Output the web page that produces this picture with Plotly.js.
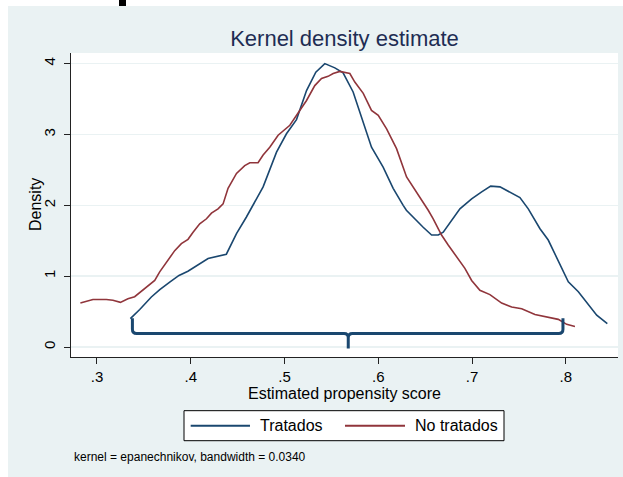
<!DOCTYPE html>
<html>
<head>
<meta charset="utf-8">
<script src="https://cdn.plot.ly/plotly-3.0.1.min.js"></script>
<style>
  html, body { margin: 0; padding: 0; background: #ffffff; width: 623px; height: 477px; overflow: hidden; }
  #chart { position: absolute; left: 8px; top: 6px; width: 615px; height: 471px; }
  #stub { position: absolute; left: 119px; top: 0px; width: 7px; height: 6px; background: #000; }
</style>
</head>
<body>
<div id="stub"></div>
<div id="chart"></div>
<script>
// ---- Data ----
const seriesNames = ["Tratados", "No tratados"];

const tratadosX = [0.3356, 0.3456, 0.358, 0.367, 0.3776, 0.3875, 0.397, 0.4078, 0.4185, 0.438, 0.4488, 0.4594, 0.4694, 0.4772, 0.4915, 0.5021, 0.5128, 0.5235, 0.5334, 0.543, 0.5537, 0.5625, 0.5732, 0.5804, 0.5928, 0.6052, 0.6159, 0.6266, 0.630, 0.6479, 0.6569, 0.664, 0.6693, 0.6871, 0.6996, 0.7103, 0.7199, 0.7298, 0.7405, 0.7511, 0.76, 0.7725, 0.7813, 0.792, 0.8027, 0.8134, 0.8223, 0.833, 0.8443];
const tratadosY = [0.40, 0.53, 0.706, 0.81, 0.917, 1.01, 1.07, 1.16, 1.25, 1.31, 1.60, 1.835, 2.07, 2.26, 2.75, 3.01, 3.21, 3.62, 3.88, 4.00, 3.94, 3.87, 3.60, 3.32, 2.82, 2.54, 2.24, 2.00, 1.93, 1.69, 1.58, 1.58, 1.62, 1.95, 2.09, 2.19, 2.27, 2.26, 2.19, 2.11, 1.95, 1.67, 1.51, 1.22, 0.92, 0.78, 0.635, 0.45, 0.33];

const noTratadosX = [0.2823, 0.2957, 0.31, 0.317, 0.325, 0.333, 0.3402, 0.3509, 0.3616, 0.3669, 0.374, 0.3829, 0.39, 0.3971, 0.4025, 0.4096, 0.4168, 0.4221, 0.4291, 0.4345, 0.4398, 0.4488, 0.4576, 0.463, 0.4718, 0.4772, 0.4843, 0.4932, 0.5057, 0.5128, 0.5235, 0.5323, 0.5395, 0.5465, 0.5519, 0.559, 0.5644, 0.5697, 0.575, 0.584, 0.5928, 0.600, 0.6089, 0.6195, 0.6302, 0.6409, 0.6533, 0.6586, 0.6675, 0.6746, 0.6836, 0.6924, 0.6996, 0.7084, 0.7191, 0.7316, 0.7423, 0.753, 0.7671, 0.7796, 0.792, 0.801, 0.8098];
const noTratadosY = [0.62, 0.67, 0.67, 0.66, 0.63, 0.68, 0.71, 0.82, 0.94, 1.06, 1.20, 1.36, 1.46, 1.52, 1.62, 1.74, 1.81, 1.89, 1.95, 2.02, 2.24, 2.45, 2.56, 2.60, 2.60, 2.71, 2.82, 2.99, 3.13, 3.27, 3.48, 3.69, 3.79, 3.82, 3.86, 3.89, 3.88, 3.86, 3.74, 3.58, 3.34, 3.27, 3.08, 2.80, 2.40, 2.19, 1.93, 1.81, 1.58, 1.44, 1.27, 1.11, 0.94, 0.80, 0.74, 0.62, 0.565, 0.54, 0.46, 0.43, 0.39, 0.32, 0.29];

const xTickVals = [0.3, 0.4, 0.5, 0.6, 0.7, 0.8];
const xTickText = [".3", ".4", ".5", ".6", ".7", ".8"];
const yTickVals = [0, 1, 2, 3, 4];
const yTickText = ["0", "1", "2", "3", "4"];

const titleText = "Kernel density estimate";
const xTitle = "Estimated propensity score";
const yTitle = "Density";
const noteText = "kernel = epanechnikov, bandwidth = 0.0340";

// brace annotation (data units): left end, cusp, right end; top of ends, bar level, cusp tip
const braceX = [0.3378, 0.568, 0.797];
const braceY = [0.405, 0.19, -0.02];

// ---- Styling ----
const BLUE = "#1A476F";
const RED = "#90353B";
const BG = "#EAF2F3";
const FONT = "Liberation Sans, Arial, sans-serif";
const seriesColors = [BLUE, RED];

const traces = [
  { x: tratadosX, y: tratadosY, name: seriesNames[0], type: "scatter", mode: "lines",
    line: { color: BLUE, width: 1.6 } },
  { x: noTratadosX, y: noTratadosY, name: seriesNames[1], type: "scatter", mode: "lines",
    line: { color: RED, width: 1.6 } }
];

const dx = 0.0045, dy = 0.06;
const [bl, bm, br] = braceX;
const [bt, bb, bc] = braceY;
const bracePath =
  `M ${bl},${bt} L ${bl},${bb + dy} Q ${bl},${bb} ${bl + dx},${bb} ` +
  `L ${bm - dx},${bb} Q ${bm},${bb} ${bm},${bb - dy} L ${bm},${bc} ` +
  `M ${bm},${bb - dy} Q ${bm},${bb} ${bm + dx},${bb} ` +
  `L ${br - dx},${bb} Q ${br},${bb} ${br},${bb + dy} L ${br},${bt}`;

// legend box drawn in paper coordinates (plot area: 547 x 304 px)
const legBox = { x0: 0.2066, x1: 0.7916, y0: -0.2753, y1: -0.1766 };
const legMidY = (legBox.y0 + legBox.y1) / 2;
const legLineX = [[0.2188, 0.3272], [0.5009, 0.6106]];
const legTextX = [0.3425, 0.6246];

const shapes = [
  { type: "path", xref: "x", yref: "y", path: bracePath, line: { color: BLUE, width: 3 } },
  { type: "rect", xref: "paper", yref: "paper", x0: legBox.x0, x1: legBox.x1, y0: legBox.y0, y1: legBox.y1,
    fillcolor: "#ffffff", line: { color: "#000000", width: 1 } }
];
const annotations = [
  { text: noteText, xref: "paper", yref: "paper", x: 1 / 547, y: -(100 / 304),
    xanchor: "left", yanchor: "middle", showarrow: false, font: { size: 12, color: "#000" } },
  // y-axis title placed explicitly so it sits close to the rotated tick labels
  { text: yTitle, xref: "paper", yref: "paper", x: -36 / 547, y: 0.5, textangle: -90,
    xanchor: "center", yanchor: "middle", showarrow: false, font: { size: 16, color: "#000" } }
];
seriesNames.forEach((nm, i) => {
  shapes.push({ type: "line", xref: "paper", yref: "paper", x0: legLineX[i][0], x1: legLineX[i][1],
    y0: legMidY, y1: legMidY, line: { color: seriesColors[i], width: 2 } });
  annotations.push({ text: nm, xref: "paper", yref: "paper", x: legTextX[i], y: legMidY,
    xanchor: "left", yanchor: "middle", showarrow: false, font: { size: 16, color: "#000" } });
});

const layout = {
  width: 615, height: 471,
  paper_bgcolor: BG, plot_bgcolor: "#ffffff",
  font: { family: FONT, color: "#000000", size: 15 },
  margin: { l: 63, r: 5, t: 47, b: 120, pad: 0 },
  showlegend: false,
  title: { text: titleText, font: { family: FONT, size: 22, color: "#1E2D53" },
           x: 0.5, xref: "paper", y: 1 - 32 / 471, yref: "container", yanchor: "middle" },
  xaxis: {
    range: [0.2723, 0.8557], tickvals: xTickVals, ticktext: xTickText,
    showgrid: false, zeroline: false, showline: true, linecolor: "#222", linewidth: 1,
    ticks: "outside", ticklen: 6, tickcolor: "#222", tickwidth: 1,
    tickfont: { size: 15, color: "#000" },
    title: { text: xTitle, font: { size: 16, color: "#000" }, standoff: 2 }
  },
  yaxis: {
    range: [-0.141, 4.15], tickvals: yTickVals, ticktext: yTickText, tickangle: -90,
    ticklabelstandoff: 3,
    showgrid: true, gridcolor: BG, gridwidth: 1.5, zeroline: false,
    showline: true, linecolor: "#222", linewidth: 1,
    ticks: "outside", ticklen: 6, tickcolor: "#222", tickwidth: 1,
    tickfont: { size: 15, color: "#000" },
    title: { text: "" }
  },
  shapes: shapes,
  annotations: annotations
};

Plotly.newPlot("chart", traces, layout, { displayModeBar: false, staticPlot: true });
</script>
</body>
</html>
